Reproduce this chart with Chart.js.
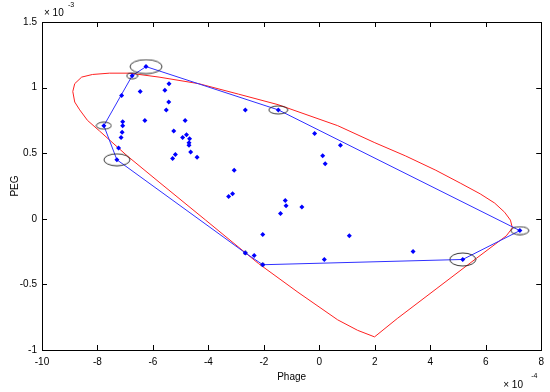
<!DOCTYPE html>
<html>
<head>
<meta charset="utf-8">
<script src="https://cdn.jsdelivr.net/npm/chart.js@4"></script>
<style>
  html, body { margin: 0; padding: 0; background: #fff; }
  #wrap { width: 550px; height: 392px; }
</style>
</head>
<body>
<div id="wrap"><canvas id="c" width="550" height="392"></canvas></div>
<script>
// x values are in units of 1e-4 (Phage), y values in units of 1e-3 (PEG)
const phageX = [
  -6.25, -6.75, -7.13, -6.46, -5.42, -5.57, -5.43, -5.52, -7.77, -7.09,
  -7.09, -7.11, -7.15, -6.29, -4.84, -5.25, -4.79, -4.93, -4.68, -4.70,
  -4.70, -4.64, -5.19, -5.29, -4.41, -7.24, -7.30, -2.67, -1.48, -0.17,
   0.76,  0.12,  0.21, -1.23, -1.20, -0.63, -1.40, -2.04,  1.08, -2.67,
  -2.35, -2.04,  0.18, -3.07, -3.27, -3.13,  3.38,  5.17,  7.23
];
const pegY = [
   1.16,  1.09,  0.94,  0.97,  1.03,  0.98,  0.89,  0.83,  0.71,  0.74,
   0.71,  0.66,  0.62,  0.75,  0.75,  0.67,  0.64,  0.62,  0.61,  0.58,
   0.56,  0.51,  0.49,  0.46,  0.47,  0.54,  0.45,  0.83,  0.83,  0.65,
   0.56,  0.48,  0.42,  0.14,  0.10,  0.09,  0.04, -0.12, -0.13, -0.26,
  -0.28, -0.35, -0.31,  0.37,  0.17,  0.19, -0.25, -0.31, -0.09
];

// convex hull vertices (closed)
const hullX = [-6.25, -1.48, 7.23, 5.17, -2.04, -2.67, -7.30, -7.77, -6.75, -6.25];
const hullY = [ 1.16,  0.83, -0.09, -0.31, -0.35, -0.26,  0.45,  0.71,  1.09,  1.16];

// red boundary curve
const curveX = [
   1.99,  2.81,  4.24,  5.67,  6.74,  6.96,  6.89,  6.68,  6.32,  5.80,
   5.10,  4.20,  3.10,  2.00,  0.66, -1.49, -2.91, -4.35, -5.78, -6.85,
  -7.57, -8.18, -8.57, -8.82, -8.89, -8.82, -8.64, -8.36, -7.93, -6.93,
  -5.78, -4.10, -2.20, -0.77,  0.66,  1.38,  1.99
];
const curveY = [
  -0.90, -0.76, -0.53, -0.30, -0.13, -0.07, -0.01,  0.05,  0.12,  0.19,
   0.27,  0.37,  0.48,  0.58,  0.71,  0.87,  0.95,  1.03,  1.08,  1.11,
   1.11,  1.10,  1.08,  1.03,  0.97,  0.89,  0.83,  0.75,  0.67,  0.48,
   0.28, -0.01, -0.34, -0.56, -0.77, -0.85, -0.90
];

// ring sizes (px) around the hull vertices, same order as hullX minus the closing one
const ringW = [32, 19, 18, 26, 3, 3, 26, 15, 11];
const ringH = [14,  8,  8, 13, 3, 3, 12,  7,  6];

const toPts = (xs, ys) => xs.map((x, i) => ({ x, y: ys[i] }));

function makeRing(w, h) {
  const cv = document.createElement('canvas');
  cv.width = w + 2;
  cv.height = h + 2;
  const g = cv.getContext('2d');
  g.strokeStyle = '#222';
  g.lineWidth = 0.9;
  g.beginPath();
  g.ellipse(cv.width / 2, cv.height / 2, w / 2, h / 2, 0, 0, Math.PI * 2);
  g.stroke();
  return cv;
}
const rings = ringW.map((w, i) => makeRing(w, ringH[i]));

const FONT = { family: '"Liberation Sans", Arial, sans-serif', size: 10 };

// matlab-like box with inward ticks and the exponent labels
const matlabFrame = {
  id: 'matlabFrame',
  afterDraw(chart) {
    const { ctx, chartArea: a, scales } = chart;
    ctx.save();
    ctx.strokeStyle = '#000';
    ctx.lineWidth = 1;
    ctx.strokeRect(Math.round(a.left) + 0.5, Math.round(a.top) + 0.5,
      Math.round(a.right - a.left), Math.round(a.bottom - a.top));
    const len = 5;
    ctx.beginPath();
    scales.x.ticks.forEach(t => {
      const px = Math.round(scales.x.getPixelForValue(t.value)) + 0.5;
      ctx.moveTo(px, a.bottom); ctx.lineTo(px, a.bottom - len);
      ctx.moveTo(px, a.top); ctx.lineTo(px, a.top + len);
    });
    scales.y.ticks.forEach(t => {
      const py = Math.round(scales.y.getPixelForValue(t.value)) + 0.5;
      ctx.moveTo(a.left, py); ctx.lineTo(a.left + len, py);
      ctx.moveTo(a.right, py); ctx.lineTo(a.right - len, py);
    });
    ctx.stroke();

    ctx.fillStyle = '#000';
    ctx.textBaseline = 'alphabetic';
    ctx.textAlign = 'left';
    ctx.font = '10px ' + FONT.family;
    ctx.fillText('\u00d7 10', a.left + 2, a.top - 6);
    ctx.fillText('\u00d7 10', a.right - 38, chart.height - 4);
    ctx.font = '7px ' + FONT.family;
    ctx.fillText('-3', a.left + 26, a.top - 15);
    ctx.fillText('-4', a.right - 10, chart.height - 14);
    ctx.restore();
  }
};

const plainNum = v => String(+v.toFixed(2));

new Chart(document.getElementById('c'), {
  type: 'scatter',
  data: {
    datasets: [
      {
        label: 'points',
        data: toPts(phageX, pegY),
        pointStyle: 'rectRot',
        pointRadius: 2.5,
        backgroundColor: '#0000ff',
        borderColor: '#0000ff',
        borderWidth: 0,
        order: 1
      },
      {
        label: 'rings',
        data: toPts(hullX.slice(0, -1), hullY.slice(0, -1)),
        pointStyle: ctx => rings[ctx.dataIndex],
        order: 2
      },
      {
        label: 'hull',
        data: toPts(hullX, hullY),
        showLine: true,
        borderColor: '#3030ff',
        borderWidth: 1,
        pointRadius: 0,
        tension: 0,
        order: 3
      },
      {
        label: 'curve',
        data: toPts(curveX, curveY),
        showLine: true,
        borderColor: '#ff2020',
        borderWidth: 1,
        pointRadius: 0,
        tension: 0,
        order: 4
      }
    ]
  },
  options: {
    responsive: false,
    animation: false,
    events: [],
    layout: { padding: { top: 22, right: 5, left: 0, bottom: 0 } },
    plugins: {
      legend: { display: false },
      tooltip: { enabled: false }
    },
    scales: {
      x: {
        type: 'linear',
        min: -10, max: 8,
        grid: { display: false, drawTicks: false },
        border: { display: false },
        ticks: { stepSize: 2, padding: 6, color: '#000', font: FONT, maxRotation: 0, callback: plainNum },
        title: { display: true, text: 'Phage', color: '#000', font: FONT, padding: { top: 0, bottom: 9 } },
        afterFit: s => { s.height = 42; }
      },
      y: {
        type: 'linear',
        min: -1, max: 1.5,
        grid: { display: false, drawTicks: false },
        border: { display: false },
        ticks: { stepSize: 0.5, padding: 5, color: '#000', font: FONT, callback: plainNum },
        title: { display: true, text: 'PEG', color: '#000', font: FONT, padding: { top: 9, bottom: 0 } },
        afterFit: s => { s.width = 42; }
      }
    }
  },
  plugins: [matlabFrame]
});
</script>
</body>
</html>
